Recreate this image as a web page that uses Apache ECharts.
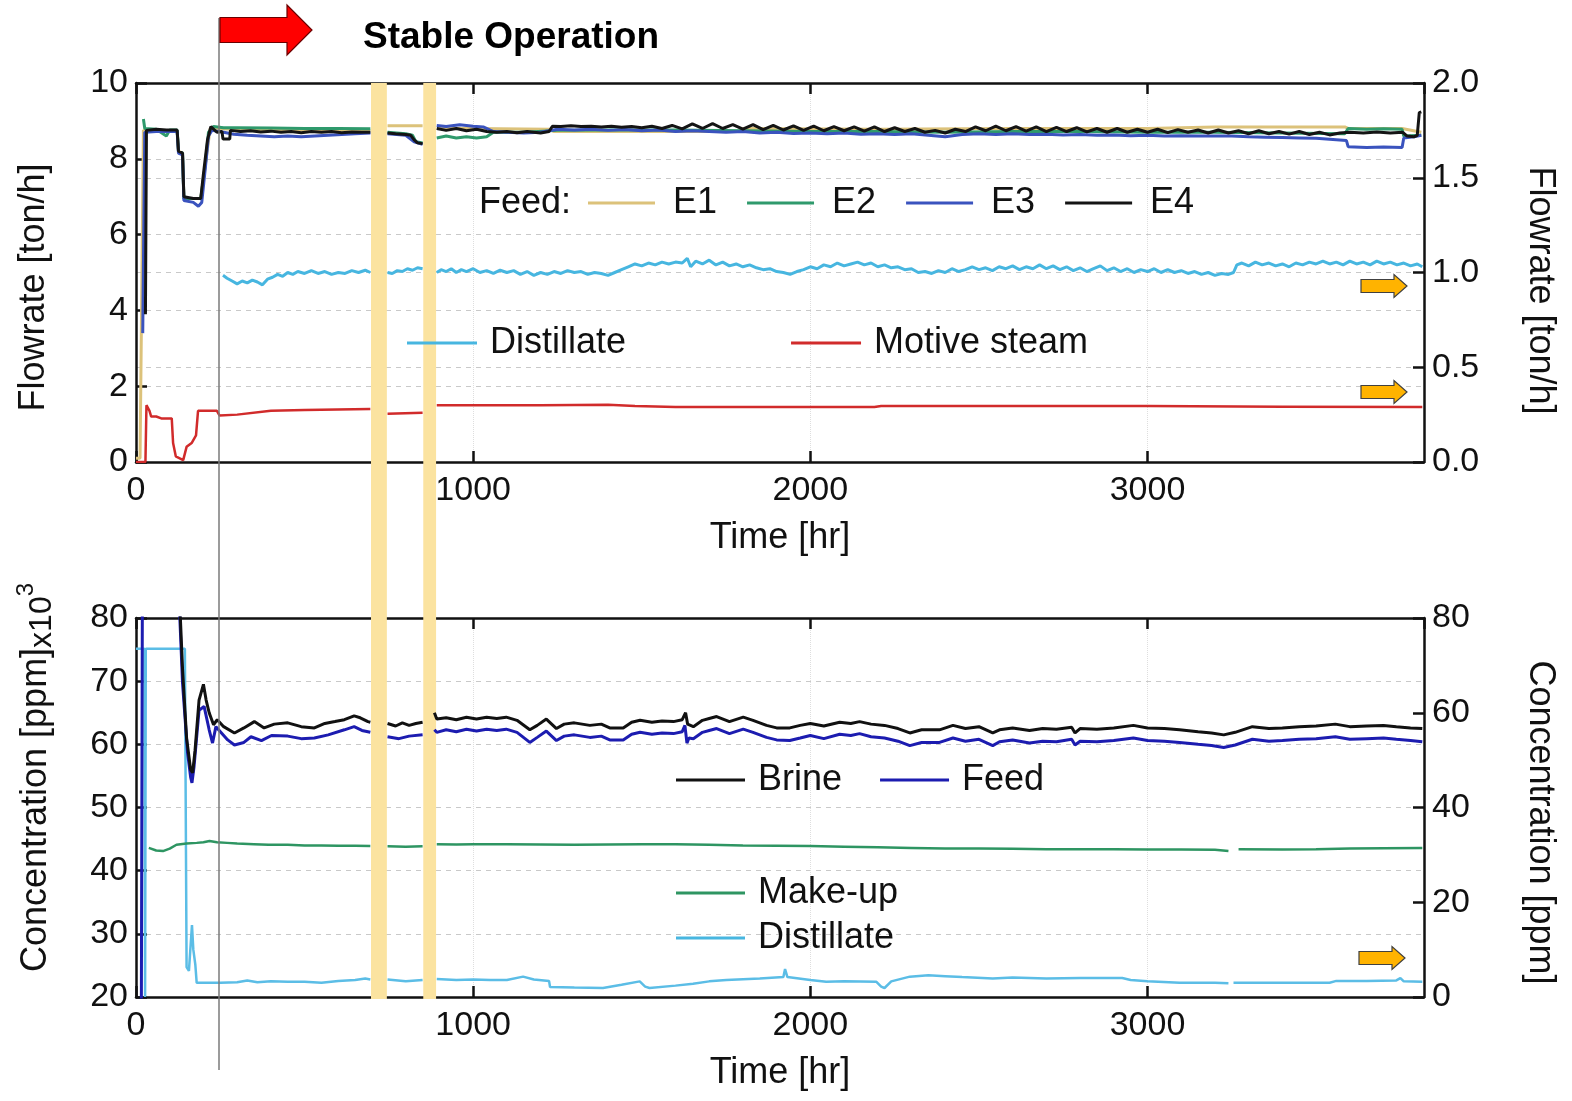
<!DOCTYPE html>
<html>
<head>
<meta charset="utf-8">
<title>Stable operation - flowrate and concentration</title>
<script src="https://cdn.jsdelivr.net/npm/echarts@6.0.0/dist/echarts.min.js"></script>
<style>
  html, body { margin: 0; padding: 0; background: #fff; }
  #main { width: 1572px; height: 1101px; }
</style>
</head>
<body>
<div id="main"></div>
<script>
// ---- data: [time hr, value], '-' = no data (gap) ----
const e1Flow = [[0,0.1],[12,0.1],[22,8.75],[122,8.75],[126,8.2],[138,8.15],[142,6.95],[192,6.95],[205,7.8],[220,8.8],[300,8.78],[500,8.76],[695,8.75],[697,'-'],
  [746,8.87],[850,8.87],[852,'-'],[892,8.8],[1000,8.8],[1225,8.78],[1240,8.72],[1500,8.72],[1790,8.72],[1800,8.8],[2200,8.78],[2600,8.8],[3000,8.8],[3200,8.84],[3585,8.84],[3595,8.8],[3755,8.8],[3812,8.7]];
const e2Flow = [[22,9.05],[26,8.8],[60,8.78],[90,8.6],[100,8.76],[122,8.76],[126,8.2],[138,8.15],[142,6.95],[192,6.95],[205,7.8],[215,8.7],[230,8.85],[260,8.82],[300,8.82],[400,8.81],[500,8.8],[600,8.8],[695,8.79],[697,'-'],
  [746,8.7],[800,8.66],[820,8.62],[830,8.45],[850,8.42],[852,'-'],[892,8.55],[920,8.6],[950,8.55],[980,8.58],[1010,8.55],[1040,8.58],[1060,8.7],[1150,8.7],[1250,8.75],[1400,8.76],[1600,8.76],[1800,8.74],[2000,8.72],[2200,8.72],[2400,8.7],[2600,8.72],[2800,8.72],[3000,8.7],[3200,8.7],[3400,8.68],[3585,8.66],[3595,8.8],[3650,8.78],[3700,8.79],[3755,8.78],[3760,8.6],[3812,8.62]];
const e3Flow = [[20,3.4],[26,8.7],[60,8.72],[122,8.72],[126,8.15],[138,8.1],[142,6.9],[170,6.85],[185,6.75],[195,6.85],[205,7.7],[215,8.6],[225,8.75],[260,8.7],[290,8.65],[330,8.62],[370,8.6],[410,8.58],[450,8.6],[490,8.58],[530,8.6],[570,8.62],[610,8.64],[650,8.66],[695,8.68],[697,'-'],
  [746,8.66],[800,8.62],[825,8.45],[850,8.38],[852,'-'],[892,8.88],[920,8.85],[960,8.9],[1000,8.86],[1030,8.84],[1060,8.72],[1100,8.7],[1150,8.68],[1200,8.7],[1250,8.78],[1300,8.76],[1350,8.78],[1400,8.75],[1450,8.77],[1500,8.74],[1550,8.76],[1600,8.72],[1650,8.74],[1700,8.72],[1750,8.7],[1800,8.72],[1850,8.68],[1900,8.7],[1950,8.67],[2000,8.68],[2050,8.66],[2100,8.68],[2150,8.65],[2200,8.66],[2250,8.64],[2300,8.66],[2350,8.62],[2400,8.58],[2450,8.64],[2500,8.66],[2550,8.64],[2600,8.66],[2650,8.64],[2700,8.65],[2750,8.63],[2800,8.64],[2850,8.62],[2900,8.63],[2950,8.61],[3000,8.62],[3050,8.6],[3100,8.61],[3150,8.6],[3200,8.6],[3250,8.6],[3300,8.58],[3350,8.57],[3400,8.56],[3450,8.55],[3500,8.54],[3560,8.5],[3590,8.48],[3595,8.32],[3650,8.3],[3700,8.31],[3755,8.3],[3760,8.55],[3790,8.58],[3812,8.62]];
const e4Flow = [[28,3.9],[31,8.75],[60,8.78],[90,8.76],[122,8.76],[126,8.2],[138,8.15],[142,7.0],[170,6.95],[192,6.95],[200,7.6],[212,8.5],[222,8.85],[240,8.7],[255,8.72],[258,8.52],[278,8.52],[280,8.75],
  [310,8.72],[340,8.74],[370,8.71],[400,8.73],[430,8.7],[460,8.72],[490,8.69],[520,8.72],[550,8.7],[580,8.72],[610,8.69],[640,8.71],[670,8.7],[695,8.7],[697,'-'],
  [746,8.68],[770,8.66],[800,8.64],[815,8.62],[825,8.5],[835,8.42],[850,8.4],[852,'-'],
  [892,8.8],[920,8.75],[950,8.8],[980,8.74],[1010,8.78],[1040,8.72],[1070,8.7],[1100,8.72],[1130,8.69],[1160,8.72],[1200,8.68],[1225,8.72],[1235,8.86],[1260,8.85],[1290,8.87],
  [1320,8.85],[1350,8.86],[1380,8.84],[1410,8.86],[1440,8.83],[1470,8.85],[1500,8.82],[1530,8.86],[1560,8.8],[1590,8.88],[1620,8.79],[1650,8.92],[1680,8.8],[1710,8.93],[1740,8.8],[1770,8.9],[1800,8.78],[1830,8.9],[1860,8.77],[1890,8.88],[1920,8.76],[1950,8.87],[1980,8.75],[2010,8.86],[2040,8.74],[2070,8.85],[2100,8.74],[2130,8.84],[2160,8.73],[2190,8.84],[2220,8.72],[2250,8.82],[2280,8.72],[2310,8.8],[2340,8.7],[2370,8.75],[2400,8.68],[2430,8.78],[2460,8.72],[2490,8.84],[2520,8.74],[2550,8.86],[2580,8.74],[2610,8.85],[2640,8.73],[2670,8.84],[2700,8.72],[2730,8.83],[2760,8.72],[2790,8.82],[2820,8.71],[2850,8.8],[2880,8.7],[2910,8.8],[2940,8.7],[2970,8.78],[3000,8.7],[3030,8.78],[3060,8.69],[3090,8.77],[3120,8.7],[3150,8.76],[3180,8.68],[3210,8.76],[3240,8.68],[3270,8.74],[3300,8.66],[3330,8.74],[3360,8.66],[3390,8.72],[3420,8.65],[3450,8.72],[3480,8.64],[3510,8.7],[3540,8.63],[3570,8.68],[3600,8.7],[3640,8.68],[3680,8.71],[3720,8.68],[3757,8.7],[3770,8.6],[3790,8.58],[3800,8.62],[3806,9.22],[3812,9.24]];
// distillate and motive steam flow, right axis (ton/h)
const distFlow = [[258,0.985],[270,0.97],[285,0.955],[300,0.94],[315,0.955],[330,0.945],[345,0.96],[360,0.95],[375,0.935],[390,0.965],[405,0.975],[420,0.99],[435,0.98],[450,1.0],[465,0.99],[480,1.005],[500,0.995],[520,1.01],[540,0.995],[560,1.005],[580,0.99],[600,1.0],[620,0.995],[640,1.01],[660,1.0],[680,1.012],[695,1.0],[697,'-'],
  [746,1.0],[760,0.995],[775,1.01],[790,1.005],[805,1.02],[820,1.012],[835,1.025],[850,1.02],[852,'-'],
  [892,1.0],[905,1.015],[920,1.005],[935,1.02],[950,1.0],[965,1.015],[980,1.005],[1000,1.02],[1020,1.0],[1040,1.01],[1060,0.995],[1080,1.012],[1100,1.0],[1120,1.01],[1140,0.99],[1160,1.005],[1180,0.985],[1200,1.0],[1220,0.99],[1240,1.005],[1260,0.995],[1280,1.01],[1300,1.0],[1320,1.005],[1340,0.99],[1360,1.0],[1380,0.995],[1400,0.985],[1420,1.0],[1440,1.015],[1460,1.03],[1480,1.045],[1500,1.035],[1520,1.05],[1540,1.04],[1560,1.055],[1580,1.045],[1600,1.055],[1620,1.05],[1635,1.075],[1645,1.03],[1660,1.06],[1680,1.045],[1700,1.065],[1720,1.04],[1740,1.055],[1760,1.035],[1780,1.045],[1800,1.03],[1820,1.04],[1840,1.025],[1860,1.015],[1880,1.02],[1900,1.005],[1920,1.0],[1940,0.99],[1960,1.005],[1980,1.015],[2000,1.03],[2020,1.02],[2040,1.04],[2060,1.03],[2080,1.05],[2100,1.035],[2120,1.045],[2140,1.055],[2160,1.04],[2180,1.05],[2200,1.03],[2220,1.04],[2240,1.025],[2260,1.03],[2280,1.015],[2300,1.02],[2320,1.0],[2340,1.005],[2360,0.995],[2380,1.01],[2400,1.0],[2420,1.02],[2440,1.005],[2460,1.015],[2480,1.03],[2500,1.015],[2520,1.025],[2540,1.01],[2560,1.03],[2580,1.02],[2600,1.035],[2620,1.015],[2640,1.03],[2660,1.02],[2680,1.04],[2700,1.02],[2720,1.035],[2740,1.015],[2760,1.03],[2780,1.01],[2800,1.025],[2820,1.005],[2840,1.02],[2860,1.035],[2880,1.01],[2900,1.025],[2920,1.005],[2940,1.02],[2960,1.0],[2980,1.015],[3000,1.005],[3020,1.02],[3040,1.0],[3060,1.015],[3080,1.0],[3100,1.01],[3120,0.995],[3140,1.005],[3160,0.99],[3180,1.0],[3200,0.985],[3220,0.995],[3240,0.99],[3255,1.0],[3265,1.04],[3280,1.05],[3300,1.035],[3320,1.055],[3340,1.04],[3360,1.05],[3380,1.035],[3400,1.045],[3420,1.03],[3440,1.05],[3460,1.04],[3480,1.055],[3500,1.045],[3520,1.06],[3540,1.045],[3560,1.055],[3580,1.04],[3600,1.06],[3620,1.045],[3640,1.055],[3660,1.04],[3680,1.06],[3700,1.045],[3720,1.055],[3740,1.04],[3760,1.05],[3780,1.035],[3800,1.045],[3815,1.03]];
const steamFlow = [[0,0],[28,0],[31,0.3],[40,0.27],[45,0.24],[60,0.24],[75,0.23],[106,0.23],[110,0.1],[118,0.03],[140,0.01],[150,0.08],[165,0.1],[178,0.14],[184,0.27],[240,0.27],[248,0.245],[300,0.25],[400,0.27],[500,0.275],[695,0.28],[697,'-'],
  [746,0.255],[850,0.26],[852,'-'],[892,0.3],[1000,0.3],[1200,0.3],[1400,0.302],[1480,0.296],[1600,0.29],[2000,0.29],[2190,0.29],[2210,0.295],[2600,0.295],[3000,0.295],[3400,0.292],[3815,0.29]];

// concentrations, left axis (ppm x10^3)
const brineConc = [[20,150],[125,150],[130,82],[138,72],[150,61],[162,56],[168,55.5],[175,59],[187,67],[200,69.5],[208,67],[217,65],[230,63.1],[241,63.9],[260,62.8],[292,61.8],[320,62.6],[351,63.6],[380,62.6],[410,63.2],[450,63.4],[490,62.8],[529,62.6],[560,63.3],[590,63.6],[618,63.9],[647,64.5],[665,64.2],[688,63.6],[695,63.5],[697,'-'],
  [746,63.3],[770,62.9],[790,63.4],[810,63.0],[830,63.3],[850,63.5],[852,'-'],
  [885,65.0],[892,64.0],[920,64.2],[950,63.9],[980,64.3],[1010,64.0],[1040,64.3],[1070,64.1],[1098,64.3],[1130,63.8],[1168,62.3],[1190,63.0],[1217,64.0],[1247,62.5],[1270,63.2],[1300,63.4],[1346,63.0],[1380,63.2],[1405,62.6],[1445,62.6],[1470,63.5],[1495,63.8],[1530,63.5],[1560,63.7],[1594,63.6],[1620,63.9],[1630,65.0],[1636,63.2],[1653,62.8],[1680,63.8],[1700,64.1],[1722,64.4],[1760,63.6],[1801,64.3],[1830,63.8],[1870,63.0],[1900,62.6],[1939,62.6],[1970,63.0],[2000,63.3],[2040,62.9],[2087,63.5],[2120,63.3],[2146,63.6],[2180,63.2],[2220,63.0],[2260,62.5],[2295,61.8],[2330,62.3],[2383,62.3],[2423,63.0],[2460,62.5],[2500,62.8],[2541,61.8],[2561,62.3],[2600,62.6],[2650,62.2],[2689,62.5],[2730,62.4],[2775,62.7],[2785,61.8],[2800,62.5],[2850,62.4],[2900,62.6],[2958,63.0],[3000,62.6],[3050,62.5],[3095,62.3],[3150,62.0],[3190,61.8],[3226,61.5],[3260,61.9],[3311,62.8],[3360,62.5],[3400,62.6],[3450,62.8],[3500,62.9],[3557,63.2],[3600,62.8],[3650,62.9],[3700,63.0],[3738,62.8],[3780,62.6],[3815,62.5]];
const feedConc = [[15,0],[22,150],[125,150],[130,80],[138,69.7],[153,58.6],[162,54.8],[166,53.9],[172,56.4],[187,65.4],[202,66],[217,62.3],[227,60.2],[237,62.8],[272,60.7],[292,59.9],[320,60.3],[341,61.2],[372,60.6],[402,61.4],[450,61.3],[490,60.9],[529,61.0],[570,61.5],[618,62.3],[647,62.8],[670,62.2],[695,61.9],[697,'-'],
  [746,61.2],[780,60.9],[810,61.3],[850,61.5],[852,'-'],
  [885,62.3],[892,61.9],[920,62.3],[950,62.0],[980,62.4],[1010,62.1],[1040,62.4],[1070,62.2],[1098,62.4],[1130,61.9],[1168,60.3],[1190,61.1],[1217,62.1],[1247,60.6],[1270,61.3],[1300,61.5],[1346,61.1],[1380,61.3],[1405,60.7],[1445,60.7],[1470,61.6],[1495,61.9],[1530,61.6],[1560,61.8],[1594,61.7],[1620,62.0],[1628,63.0],[1634,60.2],[1640,61.0],[1653,60.9],[1680,61.9],[1700,62.2],[1722,62.5],[1760,61.7],[1801,62.4],[1830,61.9],[1870,61.1],[1900,60.7],[1939,60.6],[1970,61.0],[2000,61.4],[2040,60.9],[2087,61.6],[2120,61.4],[2146,61.7],[2180,61.2],[2220,61.0],[2260,60.5],[2295,59.8],[2330,60.3],[2383,60.3],[2423,61.0],[2460,60.5],[2500,60.8],[2541,59.8],[2561,60.4],[2600,60.7],[2650,60.2],[2689,60.5],[2730,60.4],[2775,60.8],[2785,59.9],[2800,60.5],[2850,60.4],[2900,60.6],[2958,61.0],[3000,60.6],[3050,60.5],[3095,60.3],[3150,60.0],[3190,59.8],[3226,59.5],[3260,59.9],[3311,60.8],[3360,60.5],[3400,60.6],[3450,60.8],[3500,60.9],[3557,61.2],[3600,60.8],[3650,60.9],[3700,61.0],[3738,60.8],[3780,60.6],[3815,60.4]];
const makeupConc = [[38,43.6],[41,43.3],[60,43.2],[80,43.1],[100,43.5],[120,44.1],[150,44.3],[180,44.4],[200,44.5],[218,44.7],[240,44.5],[270,44.4],[300,44.3],[350,44.2],[393,44.1],[450,44.1],[500,44.0],[550,44.0],[600,43.95],[650,43.95],[695,43.9],[697,'-'],
  [746,43.85],[800,43.8],[850,43.85],[852,'-'],[892,44.2],[950,44.15],[1000,44.2],[1100,44.2],[1200,44.15],[1300,44.1],[1400,44.15],[1500,44.2],[1600,44.2],[1700,44.1],[1800,44.0],[1900,43.95],[2000,43.9],[2100,43.8],[2200,43.7],[2300,43.6],[2400,43.5],[2500,43.5],[2600,43.45],[2700,43.4],[2800,43.4],[2900,43.4],[3000,43.35],[3100,43.35],[3200,43.3],[3240,43.1],[3250,'-'],[3270,43.4],[3400,43.35],[3500,43.4],[3600,43.5],[3700,43.55],[3815,43.6]];
// distillate concentration, right axis (ppm)
const distConc = [[0,73.5],[25,73.5],[27,0],[29,73.5],[145,73.5],[150,6.3],[157,5.5],[166,15.2],[170,10],[176,6.8],[180,3.0],[250,3.0],[300,3.1],[330,3.5],[360,3.1],[400,3.3],[450,3.2],[500,3.2],[550,3.0],[600,3.4],[650,3.6],[680,3.9],[695,3.7],[697,'-'],
  [746,3.7],[800,3.3],[850,3.6],[852,'-'],[892,3.8],[950,3.6],[1000,3.7],[1050,3.6],[1100,3.6],[1148,4.3],[1180,3.7],[1225,3.4],[1228,2.1],[1300,2.0],[1385,1.9],[1440,2.6],[1494,3.3],[1510,2.2],[1523,1.9],[1600,2.4],[1652,2.8],[1700,3.3],[1751,3.6],[1850,3.9],[1920,4.2],[1925,5.9],[1932,4.2],[2000,3.6],[2047,3.2],[2100,3.3],[2196,3.2],[2210,2.2],[2220,1.9],[2240,3.3],[2295,4.3],[2350,4.6],[2400,4.4],[2450,4.2],[2541,3.9],[2600,4.1],[2700,3.9],[2800,4.0],[2925,4.0],[2950,3.6],[3000,3.3],[3095,3.0],[3200,3.0],[3240,2.9],[3246,'-'],[3255,3.0],[3350,3.0],[3450,3.0],[3540,3.0],[3560,3.4],[3650,3.4],[3738,3.5],[3750,4.0],[3760,3.3],[3815,3.2]];

// shaded periods and start of stable operation (hr)
const shadedPeriods = [[697, 744], [852, 890]];
const stableStart = 246;
const timeMax = 3820;

const FONT = "'Liberation Sans', Arial, Helvetica, sans-serif";
const INK = '#111';

let myChart = echarts.init(document.getElementById('main'));

function lineStyleAxis() {
    return { show: true, onZero: false, lineStyle: { color: INK, width: 2.5 } };
}
function bottomX(g) {
    return {
        type: 'value', gridIndex: g, min: 0, max: timeMax, interval: 1000, position: 'bottom',
        name: 'Time [hr]', nameLocation: 'middle', nameGap: 58,
        nameTextStyle: { fontSize: 36, color: INK, fontFamily: FONT },
        axisLine: lineStyleAxis(),
        axisTick: { inside: true, length: 11, lineStyle: { color: INK, width: 2.5 } },
        axisLabel: { fontSize: 34, color: INK, fontFamily: FONT, margin: 12, showMaxLabel: false,
            formatter: function (v) { return v % 1000 === 0 ? String(v) : ''; } },
        splitLine: { show: true, lineStyle: { color: '#dedede', type: 'dotted', width: 1 } }
    };
}
function topX(g) {
    return {
        type: 'value', gridIndex: g, min: 0, max: timeMax, interval: 1000, position: 'top',
        axisLine: lineStyleAxis(),
        axisTick: { inside: true, length: 11, lineStyle: { color: INK, width: 2.5 } },
        axisLabel: { show: false }, splitLine: { show: false }
    };
}
function hiddenX(g) {
    return { type: 'value', gridIndex: g, min: 0, max: timeMax, show: false };
}
function yAx(g, pos, min, max, step, opts) {
    let ax = {
        type: 'value', gridIndex: g, position: pos, min: min, max: max, interval: step,
        nameLocation: 'middle',
        nameTextStyle: { fontSize: 36, color: INK, fontFamily: FONT },
        axisLine: lineStyleAxis(),
        axisTick: { show: true, inside: true, length: 11, lineStyle: { color: INK, width: 2.5 } },
        axisLabel: { fontSize: 34, color: INK, fontFamily: FONT, margin: 8 },
        splitLine: { show: true, lineStyle: { color: '#c9c9c9', type: [5, 5], width: 1 } }
    };
    return Object.assign(ax, opts);
}
function line(name, data, xi, yi, color, width) {
    return {
        name: name, type: 'line', xAxisIndex: xi, yAxisIndex: yi, data: data,
        symbol: 'none', showSymbol: false, connectNulls: false, clip: true,
        lineStyle: { color: color, width: width || 2.5 }, itemStyle: { color: color },
        emphasis: { disabled: true }
    };
}
// little arrows pointing at the right-hand axis
function arrowRight(x, y, len, headLen, half, headHalf, fill, stroke) {
    return {
        type: 'polygon', z: 100,
        shape: { points: [[x, y - half], [x + len - headLen, y - half], [x + len - headLen, y - headHalf], [x + len, y],
            [x + len - headLen, y + headHalf], [x + len - headLen, y + half], [x, y + half]] },
        style: { fill: fill, stroke: stroke, lineWidth: 1.2 }
    };
}

const legendText = { fontSize: 36, color: INK, fontFamily: FONT, lineHeight: 40 };
// plain line icons in the legends, no symbol dot
const legendBase = { icon: 'rect', itemHeight: 3, padding: 0, selectedMode: false };

myChart.setOption({
    animation: false,
    backgroundColor: '#fff',
    title: [
        { text: 'Stable Operation', left: 363, top: 17, padding: 0,
          textStyle: { fontSize: 37, fontWeight: 'bold', color: '#000', fontFamily: FONT, lineHeight: 42 } },
        { text: 'Feed:', left: 479, top: 183, padding: 0,
          textStyle: { fontSize: 36, fontWeight: 'normal', color: INK, fontFamily: FONT, lineHeight: 40 } }
    ],
    grid: [
        { left: 136, right: 148, top: 83, height: 379 },
        { left: 136, right: 148, top: 618, height: 379 },
        { left: 136, right: 148, top: 83, height: 916 },
        { left: 136, right: 148, top: 18, height: 1052 }
    ],
    legend: [
        Object.assign({ data: ['E1', 'E2', 'E3', 'E4'], left: 588, top: 183, itemWidth: 67, itemGap: 30,
          textStyle: Object.assign({ padding: [0, 0, 0, 13] }, legendText) }, legendBase),
        Object.assign({ data: ['Distillate', 'Motive steam'], left: 407, top: 323, itemWidth: 70, itemGap: 165,
          textStyle: Object.assign({ padding: [0, 0, 0, 8] }, legendText) }, legendBase),
        Object.assign({ data: ['Brine', 'Feed'], left: 676, top: 760, itemWidth: 69, itemGap: 38,
          textStyle: Object.assign({ padding: [0, 0, 0, 8] }, legendText) }, legendBase),
        Object.assign({ data: ['Make-up', 'Distillate'], orient: 'vertical', left: 676, top: 873, itemWidth: 69, itemGap: 5,
          textStyle: Object.assign({ padding: [0, 0, 0, 8] }, legendText) }, legendBase)
    ],
    xAxis: [bottomX(0), topX(0), bottomX(1), topX(1), hiddenX(2), hiddenX(3)],
    yAxis: [
        yAx(0, 'left', 0, 10, 2, { name: 'Flowrate [ton/h]', nameRotate: 90, nameGap: 84,
            nameTextStyle: { fontSize: 36, color: INK, fontFamily: FONT, padding: [0, 30, 0, 0] } }),
        yAx(0, 'right', 0, 2, 0.5, { name: 'Flowrate [ton/h]', nameRotate: -90, nameGap: 98,
            nameTextStyle: { fontSize: 36, color: INK, fontFamily: FONT, padding: [0, 0, 0, 36] },
            axisLabel: { fontSize: 34, color: INK, fontFamily: FONT, margin: 8, formatter: function (v) { return v.toFixed(1); } } }),
        yAx(1, 'left', 20, 80, 10, {
            name: '{a|Concentration [ppm]}{b|x10}{c|3}', nameRotate: 90, nameGap: 78,
            nameTextStyle: { color: INK, fontFamily: FONT, padding: [0, 0, 0, 60],
                rich: {
                    a: { fontSize: 36, fontFamily: FONT, color: INK, lineHeight: 44, verticalAlign: 'middle' },
                    b: { fontSize: 32, fontFamily: FONT, color: INK, lineHeight: 44, verticalAlign: 'bottom' },
                    c: { fontSize: 24, fontFamily: FONT, color: INK, lineHeight: 44, verticalAlign: 'top' }
                } }
        }),
        yAx(1, 'right', 0, 80, 20, { name: 'Concentration [ppm]', nameRotate: -90, nameGap: 98, splitLine: { show: false },
            nameTextStyle: { fontSize: 36, color: INK, fontFamily: FONT, padding: [0, 0, 0, 30] } }),
        { type: 'value', gridIndex: 2, min: 0, max: 1, show: false },
        { type: 'value', gridIndex: 3, min: 0, max: 1, show: false }
    ],
    series: [
        {
            type: 'line', xAxisIndex: 4, yAxisIndex: 4, data: [], silent: true,
            markArea: { silent: true, itemStyle: { color: '#FBE3A0', opacity: 1 },
                data: shadedPeriods.map(function (p) { return [{ xAxis: p[0] }, { xAxis: p[1] }]; }) }
        },
        line('E1', e1Flow, 0, 0, '#DCC27A', 3),
        line('E2', e2Flow, 0, 0, '#2F9A6C', 3),
        line('E3', e3Flow, 0, 0, '#3A53BE', 3),
        line('E4', e4Flow, 0, 0, '#141414', 3),
        line('Distillate', distFlow, 0, 1, '#47B6E0', 3),
        line('Motive steam', steamFlow, 0, 1, '#D12B2B', 2.5),
        line('Distillate', distConc, 2, 3, '#5BBDE6', 2.5),
        line('Make-up', makeupConc, 2, 2, '#2E9562', 2.5),
        line('Feed', feedConc, 2, 2, '#1C1CB0', 3),
        line('Brine', brineConc, 2, 2, '#111111', 3),
        {
            type: 'line', xAxisIndex: 5, yAxisIndex: 5, data: [], silent: true, z: 20,
            markLine: { silent: true, symbol: 'none', label: { show: false },
                lineStyle: { color: '#7a7a7a', width: 1.5, type: 'solid' },
                data: [{ xAxis: stableStart }] }
        }
    ],
    graphic: [
        // big red arrow next to "Stable Operation"
        arrowRight(220, 30, 92, 25, 12.5, 25, '#FF0000', '#6a0000'),
        arrowRight(1361, 286, 46, 13, 6.5, 11.5, '#FFB300', '#404040'),
        arrowRight(1361, 392, 46, 13, 6.5, 11.5, '#FFB300', '#404040'),
        arrowRight(1359, 958, 46, 13, 6.5, 11.5, '#FFB300', '#404040')
    ]
});
</script>
</body>
</html>
